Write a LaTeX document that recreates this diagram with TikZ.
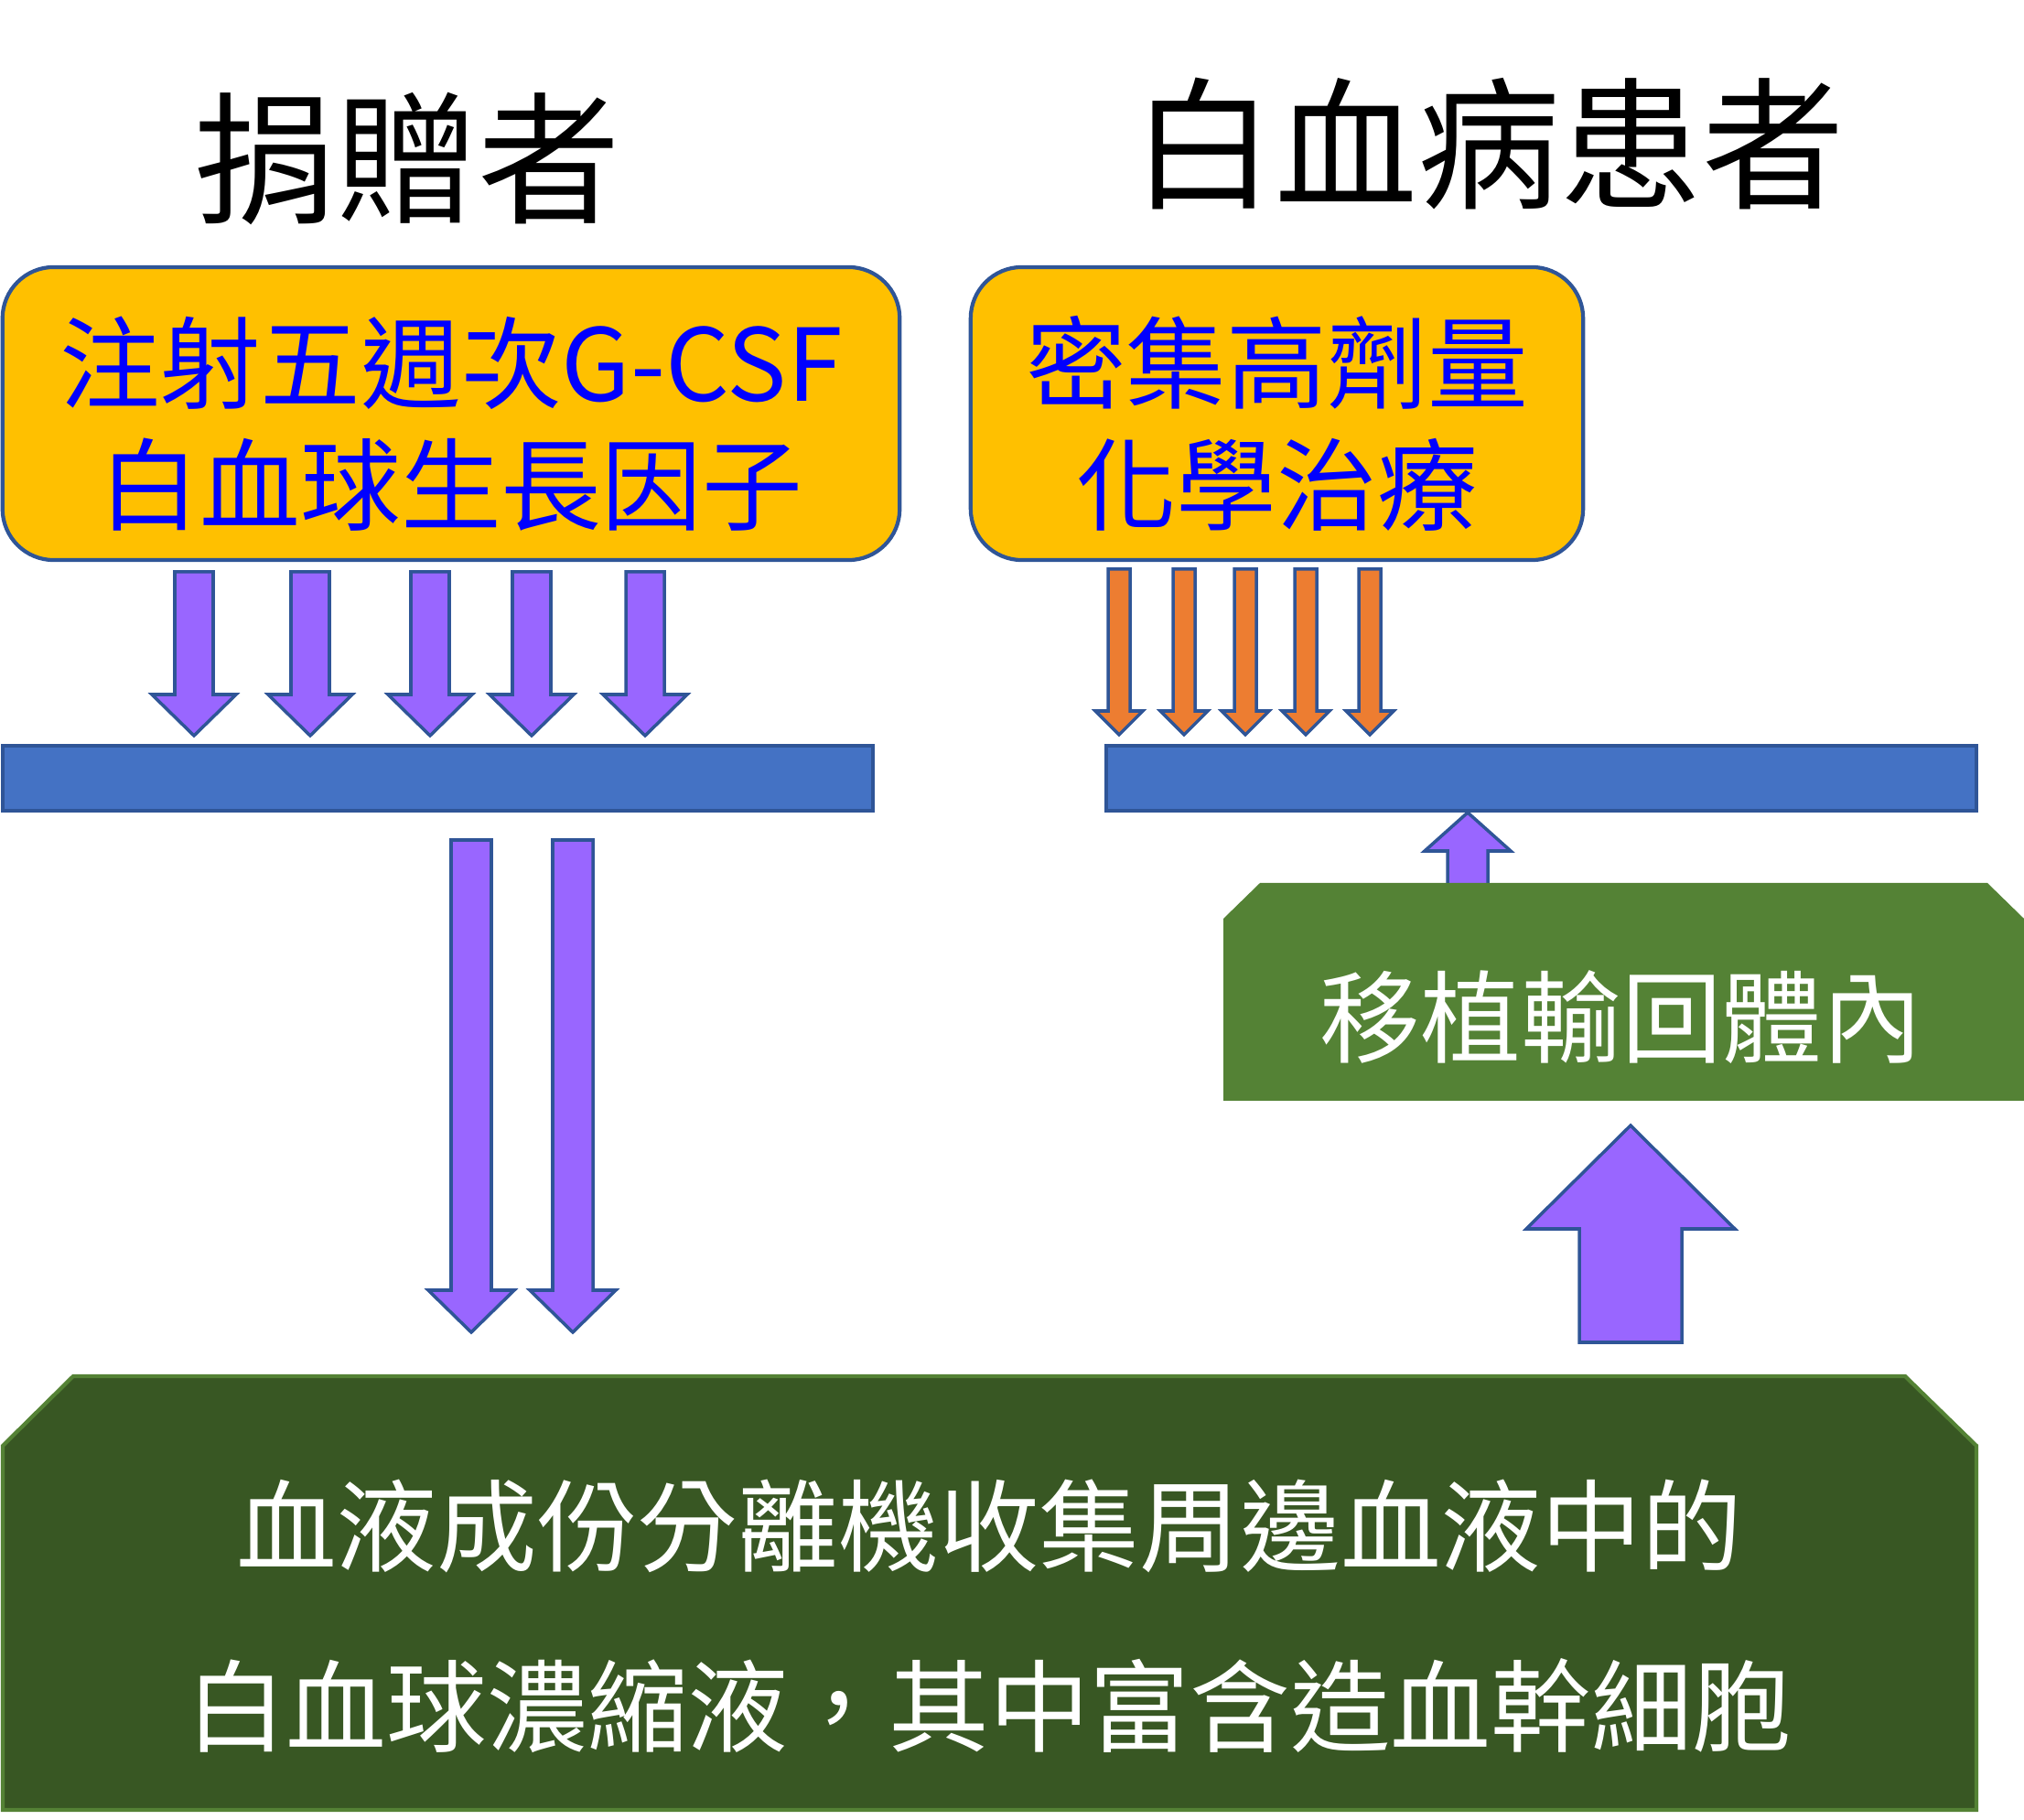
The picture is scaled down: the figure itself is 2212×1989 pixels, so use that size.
\documentclass[tikz,border=0pt]{standalone}
\usepackage{fontspec}
\setmainfont{Noto Sans CJK TC}

\definecolor{boxyellow}{HTML}{FFC000}
\definecolor{edgeblue}{HTML}{2F5597}
\definecolor{barblue}{HTML}{4472C4}
\definecolor{arrowpurple}{HTML}{9966FF}
\definecolor{arroworange}{HTML}{ED7D31}
\definecolor{leafgreen}{HTML}{548235}
\definecolor{darkgreen}{HTML}{385723}

\tikzset{
  yellowbox/.style={draw=edgeblue, fill=boxyellow, line width=1.2pt, rounded corners=0.56cm, inner sep=0pt},
  bluetext/.style={text=blue, align=center, font=\fontsize{31.2}{38}\selectfont},
  bluebar/.style={draw=edgeblue, fill=barblue, line width=1.1pt, minimum height=0.71cm, inner sep=0pt},
  purplearrow/.style={draw=edgeblue, fill=arrowpurple, line width=1pt},
  orangearrow/.style={draw=edgeblue, fill=arroworange, line width=1pt},
  titletext/.style={font=\fontsize{44.3}{50}\selectfont},
  whitetext/.style={text=white, align=center, font=\fontsize{31.2}{38}\selectfont}
}

% block arrow: style, x, tail y, head base y, tip y, half shaft, half head
\newcommand{\blockarrow}[7]{%
  \draw[#1] (#2-#6,#3) -- (#2+#6,#3) -- (#2+#6,#4) -- (#2+#7,#4) -- (#2,#5)
    -- (#2-#7,#4) -- (#2-#6,#4) -- cycle;}

\begin{document}
\begin{tikzpicture}[x=0.01cm, y=-0.01cm, line join=miter]
	\useasboundingbox (0,0) rectangle (2212,1989);
	
	% ===== Left: donor side =====
	\node[titletext] (donor) at (445,174) {捐贈者};
	\node[yellowbox, minimum width=9.8cm, minimum height=3.2cm] (gcsf) at (493,452) {};
	\node[bluetext] (gcsftext) at (493,463) {注射五週次G-CSF\\白血球生長因子};
	% five injections
	\foreach \x in {212,339,470,581,705}
	{\blockarrow{purplearrow}{\x}{625}{759}{804}{21}{46}}
	\node[bluebar, minimum width=9.51cm] (donorbar) at (478.5,850.5) {};
	% collection
	\foreach \x in {515,626}
	{\blockarrow{purplearrow}{\x}{918}{1410}{1456}{22}{47}}
	
	% ===== Right: patient side =====
	\node[titletext] (patient) at (1627,157) {白血病患者};
	\node[yellowbox, minimum width=6.69cm, minimum height=3.2cm] (chemo) at (1395.5,452) {};
	\node[bluetext] (chemotext) at (1395.5,463) {密集高劑量\\化學治療};
	\foreach \x in {1223,1294,1361,1427,1497}
	{\blockarrow{orangearrow}{\x}{622}{777}{803}{12}{26}}
	\node[bluebar, minimum width=9.51cm] (patientbar) at (1684.5,850.5) {};
	\blockarrow{purplearrow}{1604}{972}{930}{888}{22}{47}
	% transplant box
	\fill[leafgreen] (1337,1004) -- (1377,965) -- (2172,965) -- (2212,1004)
	-- (2212,1203) -- (1337,1203) -- cycle;
	\node[whitetext] (transplant) at (1772,1112) {移植輸回體內};
	\blockarrow{purplearrow}{1782}{1467}{1343}{1230}{56}{114}
	
	% ===== Bottom: harvested product =====
	\draw[fill=darkgreen, draw=leafgreen, line width=1.2pt] (3,1580) -- (80,1504)
	-- (2082,1504) -- (2160,1580) -- (2160,1978) -- (3,1978) -- cycle;
	\node[whitetext, font=\fontsize{31.2}{56}\selectfont] (harvest) at (1081,1766)
	{血液成份分離機收集周邊血液中的\\白血球濃縮液，其中富含造血幹細胞};
	
\end{tikzpicture}
\end{document}
